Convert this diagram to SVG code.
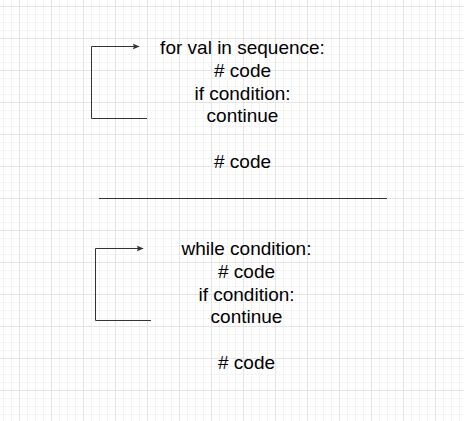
<svg xmlns="http://www.w3.org/2000/svg" width="464" height="421" viewBox="0 0 464 421">
<style>
.t{font-family:"Liberation Sans",Arial,sans-serif;font-size:19px;fill:#000;text-anchor:middle}
.c{fill:none;stroke:#333;stroke-width:1}
</style>
<defs>
<pattern id="g" x="19" y="6" width="32" height="32" patternUnits="userSpaceOnUse">
<path d="M8.5 0V32M16.5 0V32M24.5 0V32M0 8.5H32M0 16.5H32M0 24.5H32" stroke="#f3f3f3" stroke-width="1" fill="none"/>
<path d="M0.5 0V32M0 0.5H32" stroke="#e4e4e4" stroke-width="1" fill="none"/>
</pattern>
<marker id="a" viewBox="0 0 10 10" refX="9" refY="5" markerWidth="7" markerHeight="7" markerUnits="userSpaceOnUse" orient="auto">
<path d="M0 1L10 5L0 9L2 5Z" fill="#333"/>
</marker>
</defs>
<rect width="464" height="421" fill="#fff"/>
<rect width="464" height="421" fill="url(#g)"/>
<g id="connectors">
<path class="c" d="M147 118.5H91.5V46.5H139" marker-end="url(#a)"/>
<path class="c" d="M151 320.5H95.5V248.5H143" marker-end="url(#a)"/>
<path class="c" d="M99 198.5H387"/>
</g>
<g id="for-loop">
<text class="t" x="242.5" y="54">for val in sequence:</text>
<text class="t" x="242.5" y="76.8"># code</text>
<text class="t" x="242.5" y="99.6">if condition:</text>
<text class="t" x="242.5" y="122.4">continue</text>
<text class="t" x="242.5" y="168"># code</text>
</g>
<g id="while-loop">
<text class="t" x="246.5" y="255">while condition:</text>
<text class="t" x="246.5" y="277.8"># code</text>
<text class="t" x="246.5" y="300.6">if condition:</text>
<text class="t" x="246.5" y="323.4">continue</text>
<text class="t" x="246.5" y="369"># code</text>
</g>
</svg>
